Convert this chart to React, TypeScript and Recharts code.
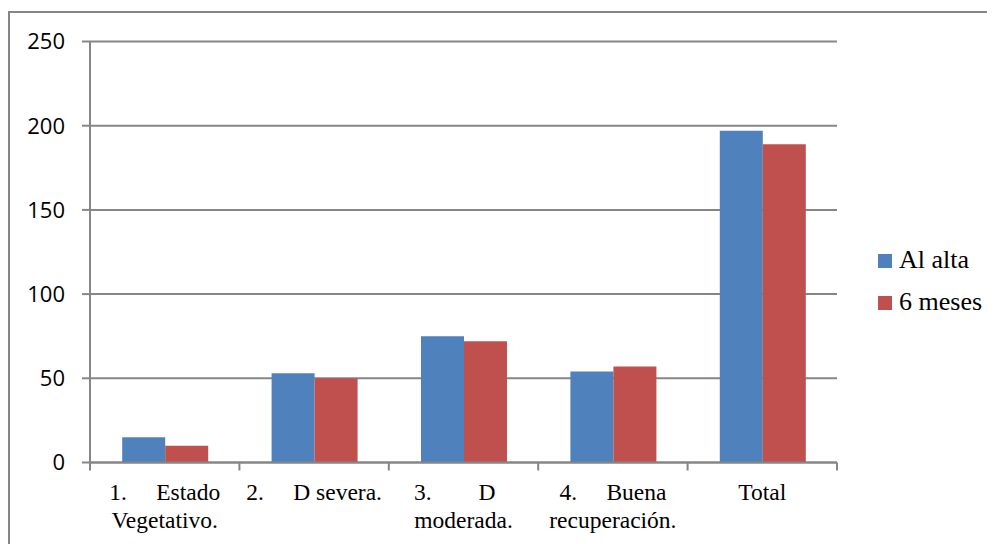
import React from 'react';
import { BarChart, Bar, XAxis, YAxis, CartesianGrid, Legend } from 'recharts';

const categories = [
  '1.     Estado\nVegetativo.',
  '2.     D severa.',
  '3.        D   \nmoderada.',
  '4.     Buena\nrecuperación.',
  'Total',
];
const alAlta = [15, 53, 75, 54, 197];
const seisMeses = [10, 50, 72, 57, 189];
const yTicks = [0, 50, 100, 150, 200, 250];

const data = categories.map((name, i) => ({ name, alAlta: alAlta[i], seisMeses: seisMeses[i] }));

const W = 987;
const H = 536;
const M = { top: 33.5, right: 158, left: 0, bottom: 0 };
const Y_W = 82;
const PLOT_W = W - M.right - Y_W;
const AXIS_GREY = '#868686';

const CategoryTick = (props: any) => {
  const { x, y, payload, index } = props;
  const band = PLOT_W / categories.length;
  const lines = String(payload.value).split('\n');
  return (
    <g>
      <line x1={x - band / 2} x2={x - band / 2} y1={y} y2={y + 8} stroke={AXIS_GREY} strokeWidth={2} />
      {index === categories.length - 1 && (
        <line x1={x + band / 2} x2={x + band / 2} y1={y} y2={y + 8} stroke={AXIS_GREY} strokeWidth={2} />
      )}
      {lines.map((l, i) => (
        <text
          key={i}
          x={x}
          y={y + 37.5 + i * 27.5}
          textAnchor="middle"
          xmlSpace="preserve"
          style={{ whiteSpace: 'pre' }}
          fontFamily="'Liberation Serif', serif"
          fontSize={23.5}
          fill="#000"
        >
          {l}
        </text>
      ))}
    </g>
  );
};

const LegendBox = () => (
  <div style={{ fontFamily: "'Liberation Serif', serif", fontSize: 26, color: '#000', whiteSpace: 'nowrap', width: 120 }}>
    {[
      { label: 'Al alta', color: '#4F81BD' },
      { label: '6 meses', color: '#C0504D' },
    ].map((it) => (
      <div key={it.label} style={{ display: 'flex', alignItems: 'center', height: 42 }}>
        <span
          style={{
            width: 14,
            height: 14,
            flexShrink: 0,
            background: it.color,
            display: 'inline-block',
            marginRight: 7,
            marginTop: 2,
          }}
        />
        <span>{it.label}</span>
      </div>
    ))}
  </div>
);

export default function App() {
  return (
    <div style={{ position: 'relative', width: W, height: H, overflow: 'hidden' }}>
      <div
        style={{
          position: 'absolute',
          left: 0,
          top: 3,
          width: W + 20,
          height: H + 20,
          borderTop: `2px solid ${AXIS_GREY}`,
          borderLeft: `2px solid ${AXIS_GREY}`,
        }}
      />
      <BarChart width={W} height={H} data={data} margin={M} barCategoryGap="21.55%" barGap={0}>
        <CartesianGrid vertical={false} stroke={AXIS_GREY} strokeWidth={2} />
        <XAxis
          dataKey="name"
          height={81.5}
          axisLine={{ stroke: AXIS_GREY, strokeWidth: 2 }}
          tickLine={false}
          tickSize={0}
          tickMargin={0}
          interval={0}
          tick={<CategoryTick />}
        />
        <YAxis
          width={Y_W}
          domain={[0, 250]}
          ticks={yTicks}
          axisLine={{ stroke: AXIS_GREY, strokeWidth: 2 }}
          tickLine={{ stroke: AXIS_GREY, strokeWidth: 2 }}
          tickSize={8}
          tickMargin={17}
          tick={{ fill: '#000', fontSize: 22, fontFamily: "'Open Sans', sans-serif" }}
        />
        <Legend
          layout="vertical"
          align="right"
          verticalAlign="middle"
          content={<LegendBox />}
          wrapperStyle={{ position: 'absolute', left: 870, top: 231, width: 0, height: 0, overflow: 'visible' }}
        />
        <Bar dataKey="alAlta" name="Al alta" fill="#4F81BD" isAnimationActive={false} />
        <Bar dataKey="seisMeses" name="6 meses" fill="#C0504D" isAnimationActive={false} />
      </BarChart>
    </div>
  );
}
